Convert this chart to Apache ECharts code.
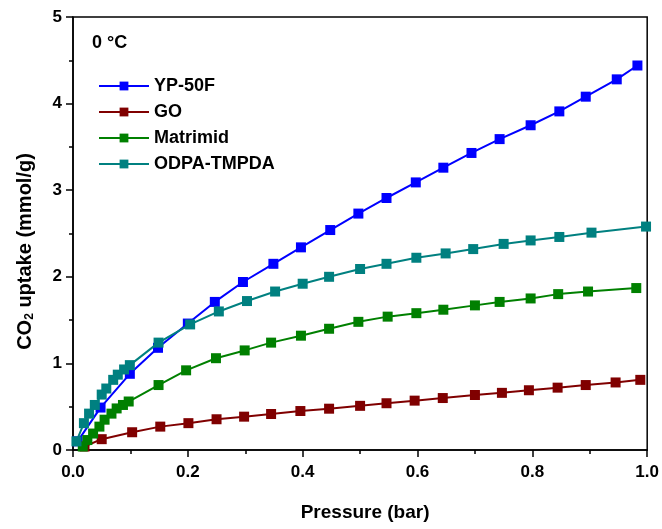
<!DOCTYPE html>
<html>
<head>
<meta charset="utf-8">
<script src="https://cdn.jsdelivr.net/npm/echarts@6/dist/echarts.min.js"></script>
<style>
html,body{margin:0;padding:0;background:#fff;}
#c{width:662px;height:529px;}
</style>
</head>
<body>
<div id="c"></div>
<script>
var seriesNames = ['YP-50F', 'GO', 'Matrimid', 'ODPA-TMPDA'];
var seriesColors = ['#0000FF', '#800000', '#008000', '#008080'];

var ypP = [0.008, 0.048, 0.099, 0.148, 0.2, 0.247, 0.296, 0.349, 0.397, 0.448, 0.497, 0.546, 0.597, 0.645, 0.694, 0.743, 0.797, 0.847, 0.893, 0.947, 0.983];
var ypV = [0.10, 0.49, 0.88, 1.18, 1.46, 1.71, 1.94, 2.15, 2.34, 2.54, 2.73, 2.91, 3.09, 3.26, 3.43, 3.59, 3.75, 3.91, 4.08, 4.28, 4.44];

var goP = [0.02, 0.05, 0.103, 0.152, 0.201, 0.25, 0.298, 0.345, 0.396, 0.446, 0.5, 0.546, 0.595, 0.644, 0.7, 0.747, 0.794, 0.844, 0.893, 0.945, 0.988];
var goV = [0.04, 0.125, 0.205, 0.27, 0.31, 0.355, 0.385, 0.416, 0.45, 0.477, 0.51, 0.54, 0.57, 0.60, 0.635, 0.66, 0.69, 0.72, 0.75, 0.78, 0.81];

var matP = [0.017, 0.025, 0.035, 0.046, 0.055, 0.067, 0.076, 0.087, 0.097, 0.149, 0.197, 0.249, 0.299, 0.345, 0.397, 0.446, 0.497, 0.548, 0.598, 0.645, 0.70, 0.743, 0.797, 0.845, 0.897, 0.981];
var matV = [0.04, 0.115, 0.19, 0.27, 0.35, 0.42, 0.48, 0.52, 0.56, 0.75, 0.92, 1.06, 1.15, 1.24, 1.32, 1.40, 1.48, 1.54, 1.58, 1.62, 1.67, 1.71, 1.75, 1.80, 1.83, 1.87];

var odpP = [0.006, 0.019, 0.028, 0.038, 0.05, 0.058, 0.07, 0.078, 0.089, 0.099, 0.149, 0.204, 0.254, 0.303, 0.352, 0.40, 0.446, 0.50, 0.546, 0.598, 0.649, 0.697, 0.75, 0.797, 0.847, 0.903, 0.998];
var odpV = [0.10, 0.31, 0.42, 0.52, 0.64, 0.71, 0.81, 0.87, 0.93, 0.98, 1.24, 1.45, 1.60, 1.72, 1.83, 1.92, 2.00, 2.09, 2.15, 2.22, 2.27, 2.32, 2.38, 2.42, 2.46, 2.51, 2.58];

var xTicks = ['0.0', '0.2', '0.4', '0.6', '0.8', '1.0'];
var yTicks = ['0', '1', '2', '3', '4', '5'];

function pairs(p, v) { return p.map(function (x, i) { return [x, v[i]]; }); }
var allP = [ypP, goP, matP, odpP];
var allV = [ypV, goV, matV, odpV];

var FONT = 'Liberation Sans, Arial, sans-serif';
var chart = echarts.init(document.getElementById('c'), null, {renderer: 'canvas'});

var series = seriesNames.map(function (n, i) {
  return {
    name: n,
    type: 'line',
    data: pairs(allP[i], allV[i]),
    symbol: 'rect',
    symbolSize: 10,
    showAllSymbol: true,
    color: seriesColors[i],
    lineStyle: {width: 2, color: seriesColors[i]},
    itemStyle: {color: seriesColors[i]},
    z: 2 + i
  };
});

chart.setOption({
  animation: false,
  backgroundColor: '#fff',
  grid: {left: 73, right: 10, top: 17, bottom: 79, show: true, borderColor: '#000', borderWidth: 1.5, backgroundColor: 'transparent'},
  legend: {
    data: seriesNames,
    orient: 'vertical',
    left: 93,
    top: 72,
    itemWidth: 50,
    itemHeight: 11,
    itemGap: 8,
    textStyle: {fontFamily: FONT, fontWeight: 'bold', fontSize: 18, lineHeight: 18, color: '#000'}
  },
  graphic: [{
    type: 'text',
    left: 92,
    top: 34,
    style: {text: '0 °C', font: 'bold 18px ' + FONT, fill: '#000'}
  }],
  xAxis: {
    type: 'value',
    min: 0, max: 1, interval: 0.2,
    name: 'Pressure (bar)',
    nameLocation: 'middle',
    nameGap: 53,
    nameTextStyle: {fontFamily: FONT, fontWeight: 'bold', fontSize: 19, color: '#000', padding: [0, 0, 0, 10]},
    axisLine: {show: true, lineStyle: {color: '#000', width: 1.5}},
    axisTick: {show: true, inside: false, length: 7, lineStyle: {color: '#000', width: 1.5}},
    minorTick: {show: true, splitNumber: 2, length: 4, lineStyle: {color: '#000', width: 1.5}},
    axisLabel: {fontFamily: FONT, fontWeight: 'bold', fontSize: 17, color: '#000', margin: 14,
      formatter: function (v) { return xTicks[Math.round(v / 0.2)]; }},
    splitLine: {show: false}
  },
  yAxis: {
    type: 'value',
    min: 0, max: 5, interval: 1,
    name: '{a|CO}{b|2}{a| uptake (mmol/g)}',
    nameLocation: 'middle',
    nameGap: 37,
    nameRotate: 90,
    nameTextStyle: {
      padding: [0, 36, 0, 0],
      rich: {
        a: {fontFamily: FONT, fontWeight: 'bold', fontSize: 20, color: '#000', lineHeight: 22},
        b: {fontFamily: FONT, fontWeight: 'bold', fontSize: 12, color: '#000', lineHeight: 11, verticalAlign: 'bottom'}
      }
    },
    axisLine: {show: true, lineStyle: {color: '#000', width: 1.5}},
    axisTick: {show: true, inside: false, length: 7, lineStyle: {color: '#000', width: 1.5}},
    minorTick: {show: true, splitNumber: 2, length: 4, lineStyle: {color: '#000', width: 1.5}},
    axisLabel: {fontFamily: FONT, fontWeight: 'bold', fontSize: 17, color: '#000', margin: 11,
      formatter: function (v) { return yTicks[Math.round(v)]; }},
    splitLine: {show: false}
  },
  series: series
});
</script>
</body>
</html>
